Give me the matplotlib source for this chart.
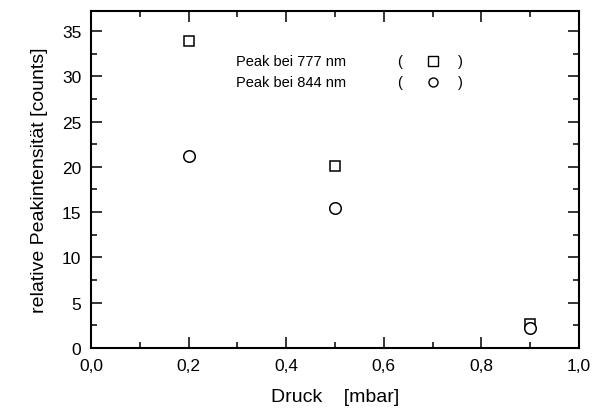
import matplotlib.pyplot as plt
from matplotlib.ticker import MultipleLocator, FuncFormatter

plt.rcParams['font.family'] = ['Liberation Sans', 'DejaVu Sans']

# data
druck = [0.2, 0.5, 0.9]
peak_777 = [33.9, 20.1, 2.6]
peak_844 = [21.2, 15.4, 2.2]

fig = plt.figure(figsize=(5.92, 4.14), dpi=100)
ax = fig.add_axes([0.1537, 0.157, 0.8245, 0.814])

ax.plot(druck, peak_777, linestyle='none', marker='s', markersize=7.8,
        markerfacecolor='white', markeredgecolor='black', markeredgewidth=1.1)
ax.plot(druck, peak_844, linestyle='none', marker='o', markersize=8.3,
        markerfacecolor='white', markeredgecolor='black', markeredgewidth=1.1)

ax.set_xlim(0, 1.0)
ax.set_ylim(0, 37.2)
ax.xaxis.set_major_locator(MultipleLocator(0.2))
ax.xaxis.set_minor_locator(MultipleLocator(0.1))
ax.yaxis.set_major_locator(MultipleLocator(5))
ax.yaxis.set_minor_locator(MultipleLocator(2.5))
ax.xaxis.set_major_formatter(FuncFormatter(lambda v, p: f'{v:.1f}'.replace('.', ',')))
ax.tick_params(which='both', direction='in', top=True, right=True,
               width=1.1, labelsize=12.5)
ax.tick_params(which='major', length=8, pad=7)
ax.tick_params(which='minor', length=4)
for s in ax.spines.values():
    s.set_linewidth(1.5)

ax.set_xlabel('Druck    [mbar]', fontsize=14, labelpad=11)
ax.set_ylabel('relative Peakintensität [counts]', fontsize=14, labelpad=10)

# legend-like annotation
rows = [('Peak bei 777 nm', 's', 0.852), ('Peak bei 844 nm', 'o', 0.79)]
for label, m, y in rows:
    ax.text(0.297, y, label, transform=ax.transAxes, fontsize=10.5, va='center')
    ax.text(0.628, y, '(', transform=ax.transAxes, fontsize=10.5, va='center')
    ax.text(0.752, y, ')', transform=ax.transAxes, fontsize=10.5, va='center')
    ax.plot([0.7], [y], transform=ax.transAxes, marker=m, markersize=6.5,
            markerfacecolor='white', markeredgecolor='black',
            markeredgewidth=1, clip_on=False)

fig.savefig('out.png', dpi=100)
